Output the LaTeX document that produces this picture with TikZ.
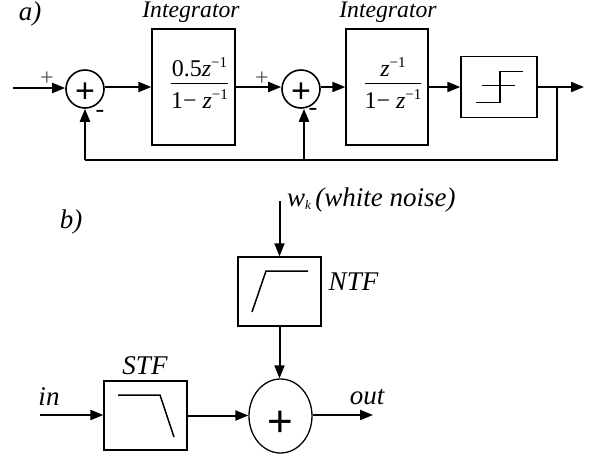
\documentclass[tikz,border=0pt]{standalone}
\usepackage{fontspec}
\setmainfont{Liberation Serif}
\newfontfamily\plusfont{Liberation Sans}
\usetikzlibrary{arrows.meta,shapes.geometric}
\newcommand{\zinv}{\textit{z}\raisebox{9pt}{\fontsize{15}{15}\selectfont −1}}
\newcommand{\zfrac}[2]{\hspace{12pt}$\vcenter{\hbox{\begin{tabular}{@{}c@{}}\rule[-6pt]{0pt}{24pt}#1\\[-1pt]\hline\rule{0pt}{25pt}#2\end{tabular}}}$}
\tikzset{
  x=1pt,y=-1pt,
  block/.style={draw,line width=1.3pt,rectangle,inner sep=0pt,font=\fontsize{24}{26}\selectfont},
  sumcirc/.style={draw,line width=1.6pt,circle,inner sep=0pt,minimum size=38pt,font=\plusfont\fontsize{34}{34}\selectfont},
  sumoval/.style={draw,line width=1.3pt,ellipse,inner sep=0pt,minimum width=63pt,minimum height=74pt,font=\plusfont\fontsize{44}{44}\selectfont},
  flow/.style={line width=2pt,-{Triangle[length=13pt,width=10pt]}},
  fback/.style={line width=2.4pt},
  curve/.style={line width=1.5pt},
  lab/.style={inner sep=0pt,font=\fontsize{27}{28}\selectfont\itshape},
  intlab/.style={inner sep=0pt,font=\fontsize{23.7}{25}\selectfont\itshape},
  sign/.style={inner sep=0pt,text height=12pt,text depth=0pt,font=\fontsize{24}{24}\selectfont,text=black!70},
  minus/.style={inner sep=0pt,text height=7pt,text depth=-4pt,font=\fontsize{26}{26}\selectfont}
}
\begin{document}
\begin{tikzpicture}
\useasboundingbox (0,0) rectangle (590,456);
% part a
\node[lab] (la) at (30,14) {a)};
\node[intlab] (int1) at (191,12) {Integrator};
\node[intlab] (int2) at (388,12) {Integrator};
\coordinate (in1) at (13,88);
\node[sumcirc] (s1) at (85,89) {\raisebox{-13pt}[0pt][0pt]{+}};
\node[block,minimum width=83pt,minimum height=116pt] (b1) at (193.5,87) {\zfrac{0.5\zinv}{1− \zinv}};
\node[sumcirc] (s2) at (301,89) {\raisebox{-13pt}[0pt][0pt]{+}};
\node[block,minimum width=82pt,minimum height=116pt] (b2) at (387,87) {\zfrac{\zinv}{1− \zinv}};
\node[block,minimum width=76pt,minimum height=61pt] (q) at (499,87) {};
\coordinate (bout) at (584,87);
\coordinate (br) at (557,87);
\coordinate (fb) at (557,160);
\coordinate (fb2) at (304,160);
\coordinate (fb1) at (85,160);
\node[sign] (sp1) at (47,79) {+};
\node[sign] (sp2) at (262,79) {+};
\node[minus] (sm1) at (100,113.5) {-};
\node[minus] (sm2) at (313,112) {-};
\draw[flow] (in1) -- (s1.west |- in1);
\draw[flow] (s1.east |- b1) -- (b1.west);
\draw[flow] (b1.east) -- (s2.west |- b1.east);
\draw[flow] (s2.east |- b2) -- (b2.west);
\draw[flow] (b2.east) -- (q.west);
\draw[flow] (q.east) -- (bout);
\draw[fback] (br) -- (fb) -- (fb1);
\draw[fback,-{Triangle[length=13pt,width=10pt]}] (fb1) -- (s1.south);
\draw[fback,-{Triangle[length=13pt,width=10pt]}] (fb2) -- (fb2 |- s2.south);
\draw[curve] (482,85.5) -- (515,85.5);
\draw[curve] (476,102.5) -- (500,102.5) -- (500,71.5) -- (523,71.5);
% part b
\node[lab] (lb) at (71,222) {b)};
\node[block,minimum width=83pt,minimum height=69pt] (ntf) at (279.5,291.5) {};
\node[block,minimum width=83pt,minimum height=69pt] (stf) at (145.5,415.5) {};
\node[sumoval] (s3) at (280.5,416) {\raisebox{-20pt}[0pt][0pt]{+}};
\coordinate (w) at (279.5,201);
\coordinate (inp) at (40,415);
\coordinate (outp) at (373,415);
\node[lab,anchor=west] (wt) at (287,200) {\textit{w}\raisebox{-3pt}{\fontsize{13}{13}\selectfont k}\,(white noise)};
\node[lab] (ntft) at (353.5,282) {NTF};
\node[lab] (stft) at (145,366) {STF};
\node[lab] (int) at (49,397) {in};
\node[lab] (outt) at (367,397) {out};
\draw[flow] (w) -- (ntf.north);
\draw[flow] (ntf.south) -- (ntf.south |- s3.north);
\draw[flow] (inp) -- (stf.west |- inp);
\draw[flow] (stf.east) -- (s3.west |- stf.east);
\draw[flow] (s3.east |- outp) -- (outp);
\draw[curve] (252,312) -- (266,271) -- (308,271);
\draw[curve] (118,395) -- (160,395) -- (174,437);
\end{tikzpicture}
\end{document}
